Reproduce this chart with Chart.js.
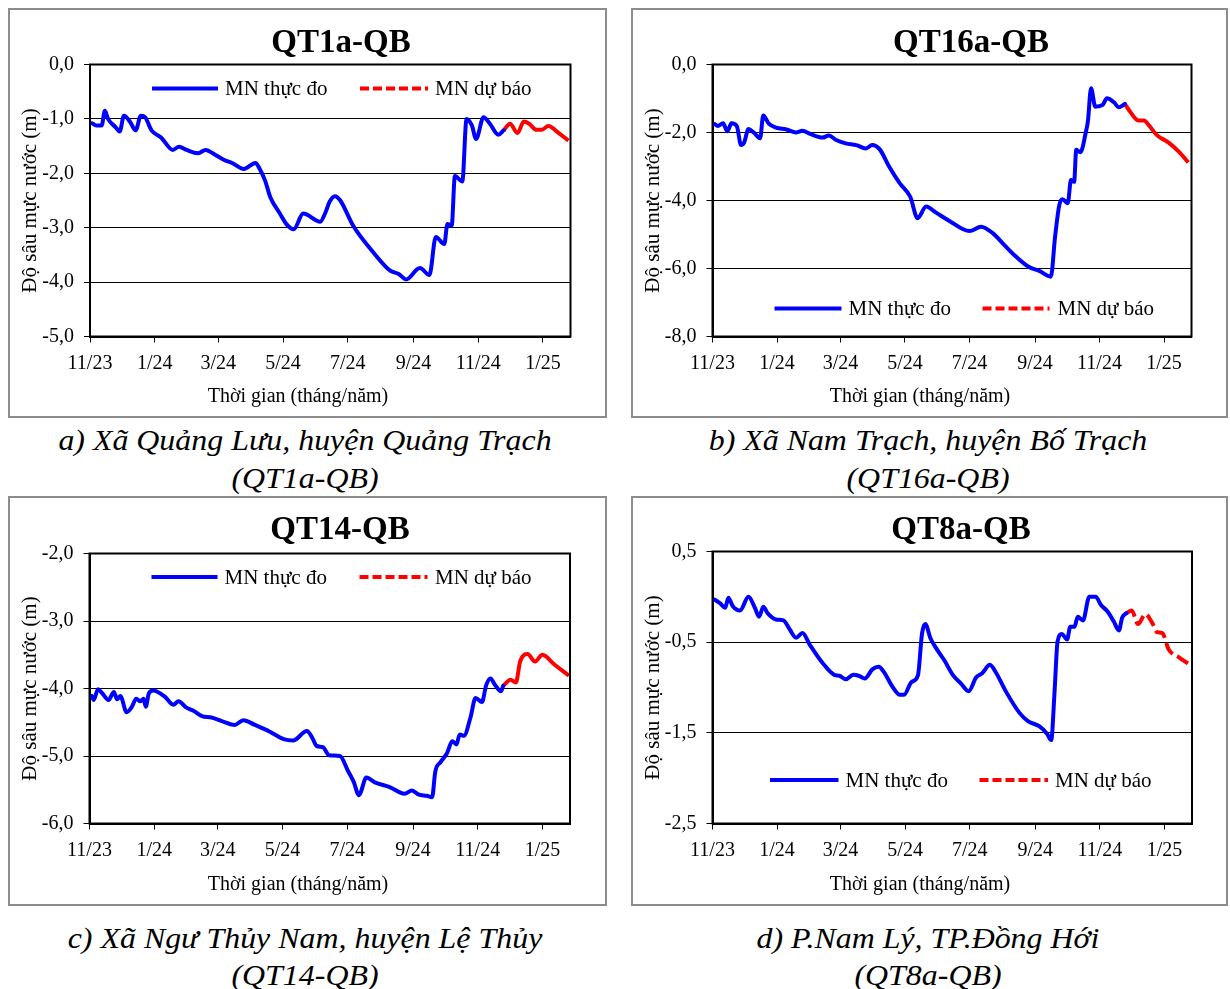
<!DOCTYPE html>
<html><head><meta charset="utf-8">
<script src="https://cdn.jsdelivr.net/npm/chart.js@4.4.1/dist/chart.umd.min.js"></script>
<style>
html,body{margin:0;padding:0;background:#fff;}
#page{position:relative;width:1230px;height:989px;overflow:hidden;font-family:"Liberation Serif","Times New Roman",serif;color:#000;background:#fff;}
.frame{position:absolute;border:2px solid #8c8c8c;box-sizing:border-box;pointer-events:none;}
canvas{position:absolute;}
.title{position:absolute;width:300px;text-align:center;font-weight:bold;font-size:33px;line-height:36px;white-space:nowrap;}
.cap{position:absolute;width:600px;text-align:center;font-style:italic;font-size:29px;line-height:38px;white-space:nowrap;transform:scaleX(1.1);transform-origin:center;}
</style></head>
<body><div id="page"></div>
<script>
// ---- shared axis data (x = days since 1 Nov 2023) ----
const xTickDays = [0, 61, 121, 182, 243, 305, 366, 427];
const xTickLabels = ['11/23', '1/24', '3/24', '5/24', '7/24', '9/24', '11/24', '1/25'];
const xMaxDay = 453;
const seriesLabels = ['MN thực đo', 'MN dự báo'];
const xTitle = 'Thời gian (tháng/năm)';
const yTitle = 'Độ sâu mực nước (m)';

// ---- panel a: QT1a-QB ----
const obsDaysA = [2,6,11,14,17,24,28,32,38,43,48,52,58,67,78,84,91,102,109,118,127,134,145,156,160,165,170,179,185,192,201,217,222,226,231,236,248,267,283,291,298,311,320,326,334,337,341,344,351,355,360,364,371,377,385,390];
const obsValsA = [-1.08,-1.12,-1.12,-0.85,-1.0,-1.15,-1.23,-0.94,-1.06,-1.21,-0.94,-0.97,-1.21,-1.34,-1.57,-1.51,-1.57,-1.63,-1.57,-1.66,-1.76,-1.81,-1.92,-1.81,-1.92,-2.13,-2.44,-2.74,-2.93,-3.03,-2.74,-2.89,-2.72,-2.52,-2.42,-2.5,-2.96,-3.45,-3.79,-3.85,-3.95,-3.74,-3.87,-3.17,-3.3,-2.93,-2.96,-2.05,-2.15,-1.0,-1.12,-1.37,-0.97,-1.09,-1.29,-1.21];
const fcDaysA = [390,396,403,409,414,421,426,432,442,451];
const fcValsA = [-1.21,-1.09,-1.26,-1.05,-1.09,-1.2,-1.2,-1.13,-1.26,-1.4];
const yTicksA = [0,-1,-2,-3,-4,-5];

// ---- panel b: QT16a-QB ----
const obsDaysB = [2,5,10,14,18,23,27,30,34,39,45,48,53,60,70,79,85,93,104,110,117,126,136,145,151,158,167,177,187,194,202,211,224,243,254,265,276,287,299,309,320,324,328,331,336,339,342,344,348,353,355,358,362,369,373,380,384,390];
const obsValsB = [-1.75,-1.81,-1.73,-1.96,-1.73,-1.81,-2.37,-2.29,-1.9,-2.0,-2.17,-1.5,-1.73,-1.86,-1.91,-2.0,-1.95,-2.05,-2.15,-2.09,-2.22,-2.32,-2.37,-2.47,-2.37,-2.49,-3.0,-3.49,-3.89,-4.52,-4.18,-4.35,-4.6,-4.9,-4.77,-4.96,-5.31,-5.65,-5.95,-6.07,-6.24,-5.06,-4.13,-3.96,-4.08,-3.4,-3.45,-2.51,-2.58,-2.0,-1.68,-0.7,-1.24,-1.19,-0.99,-1.12,-1.26,-1.16];
const fcDaysB = [390,395,403,408,413,420,431,441,450];
const fcValsB = [-1.16,-1.39,-1.65,-1.65,-1.8,-2.07,-2.29,-2.56,-2.88];
const yTicksB = [0,-2,-4,-6,-8];

// ---- panel c: QT14-QB ----
const obsDaysC = [2,4,8,12,18,23,26,29,35,40,44,48,51,53,56,60,71,79,84,91,98,106,115,126,137,145,156,170,183,192,205,210,214,220,226,236,244,249,254,261,269,283,297,304,310,318,323,326,331,337,342,346,349,353,359,364,370,374,378,382,388,390];
const obsValsC = [-4.11,-4.17,-4.01,-4.07,-4.17,-4.05,-4.16,-4.11,-4.35,-4.27,-4.15,-4.19,-4.15,-4.27,-4.07,-4.03,-4.12,-4.24,-4.19,-4.28,-4.33,-4.41,-4.43,-4.49,-4.54,-4.47,-4.54,-4.64,-4.75,-4.77,-4.63,-4.73,-4.85,-4.87,-4.99,-5.0,-5.23,-5.38,-5.58,-5.32,-5.39,-5.46,-5.56,-5.51,-5.57,-5.59,-5.61,-5.23,-5.09,-4.96,-4.78,-4.83,-4.68,-4.7,-4.44,-4.14,-4.2,-3.95,-3.85,-3.94,-4.04,-3.96];
const fcDaysC = [390,397,402,406,413,420,427,438,452];
const fcValsC = [-3.96,-3.87,-3.91,-3.6,-3.49,-3.6,-3.5,-3.64,-3.81];
const yTicksC = [-2,-3,-4,-5,-6];

// ---- panel d: QT8a-QB ----
const obsDaysD = [2,7,12,15,19,26,34,40,44,48,52,60,67,73,79,85,92,104,115,120,126,133,138,144,151,157,162,170,177,181,188,194,198,201,206,212,219,227,235,242,249,255,262,268,277,290,298,309,316,320,323,326,330,335,338,342,345,350,356,362,367,373,379,384,387,391];
const obsValsD = [-0.03,-0.07,-0.12,-0.01,-0.1,-0.15,0.0,-0.12,-0.22,-0.11,-0.18,-0.25,-0.26,-0.36,-0.45,-0.4,-0.53,-0.73,-0.86,-0.87,-0.91,-0.86,-0.87,-0.9,-0.8,-0.77,-0.83,-0.99,-1.08,-1.08,-0.94,-0.87,-0.4,-0.3,-0.46,-0.58,-0.7,-0.86,-0.96,-1.04,-0.89,-0.84,-0.75,-0.84,-1.04,-1.28,-1.37,-1.43,-1.51,-1.58,-1.08,-0.49,-0.41,-0.47,-0.33,-0.33,-0.22,-0.26,0.0,0.0,-0.09,-0.16,-0.27,-0.37,-0.23,-0.18];
const fcDaysD = [391,396,402,409,416,420,425,431,441,451];
const fcValsD = [-0.18,-0.15,-0.3,-0.19,-0.3,-0.39,-0.4,-0.58,-0.67,-0.75];
const yTicksD = [0.5,-0.5,-1.5,-2.5];

const titles = ['QT1a-QB', 'QT16a-QB', 'QT14-QB', 'QT8a-QB'];
const captions = [
  ['a) Xã Quảng Lưu, huyện Quảng Trạch', '(QT1a-QB)'],
  ['b) Xã Nam Trạch, huyện Bố Trạch', '(QT16a-QB)'],
  ['c) Xã Ngư Thủy Nam, huyện Lệ Thủy', '(QT14-QB)'],
  ['d) P.Nam Lý, TP.Đồng Hới', '(QT8a-QB)']
];

// ---- layout (style only) ----
const panels = [
  {frame:[8,8,599,410], plot:[90,64.5,570.5,336.5], obsD:obsDaysA, obsV:obsValsA, fcD:fcDaysA, fcV:fcValsA, yT:yTicksA,
   fcDash:[], leg:{y:24, items:[[62,128,135],[270,338,345]]}, titleC:[341,41], capC:[305,440,478], xTitleC:[298,397]},
  {frame:[631,8,597,410], plot:[712.5,64.5,1191.5,336.5], obsD:obsDaysB, obsV:obsValsB, fcD:fcDaysB, fcV:fcValsB, yT:yTicksB,
   fcDash:[], leg:{y:244, items:[[62,129,136],[270,337,345]]}, titleC:[971,41], capC:[928,440,478], xTitleC:[920,397]},
  {frame:[8,496,599,410], plot:[89.5,553.5,570,823.5], obsD:obsDaysC, obsV:obsValsC, fcD:fcDaysC, fcV:fcValsC, yT:yTicksC,
   fcDash:[], leg:{y:23.5, items:[[62,128,135],[270,338,345.5]]}, titleC:[340,528], capC:[305,938,975], xTitleC:[298,885]},
  {frame:[631,496,597,410], plot:[712.5,551.5,1192,823.5], obsD:obsDaysD, obsV:obsValsD, fcD:fcDaysD, fcV:fcValsD, yT:yTicksD,
   fcDash:[13,5], leg:{y:228.5, items:[[57.5,126,133],[267,335.5,342.5]]}, titleC:[961,528], capC:[928,938,975], xTitleC:[920,885]}
];

const FONT = '"Liberation Serif", "Times New Roman", serif';
const fmt = v => (Math.abs(v) < 1e-9 ? 0 : v).toFixed(1).replace('.', ',');

const framePlugin = {
  id: 'plotFrame',
  afterDatasetsDraw(chart) {
    const ca = chart.chartArea, ctx = chart.ctx;
    ctx.save();
    ctx.strokeStyle = '#000'; ctx.lineWidth = 2;
    ctx.strokeRect(ca.left, ca.top, ca.right - ca.left, ca.bottom - ca.top);
    ctx.restore();
  }
};
const legendPlugin = {
  id: 'insideLegend',
  afterDraw(chart, args, opts) {
    const ca = chart.chartArea, ctx = chart.ctx;
    ctx.save();
    chart.data.datasets.forEach((ds, i) => {
      const it = opts.items[i];
      const y = ca.top + opts.y;
      ctx.strokeStyle = ds.borderColor; ctx.lineWidth = 4; ctx.lineCap = 'butt';
      ctx.setLineDash(ds.legendDash || []);
      ctx.beginPath(); ctx.moveTo(ca.left + it[0], y); ctx.lineTo(ca.left + it[1], y); ctx.stroke();
      ctx.setLineDash([]);
      ctx.fillStyle = '#000'; ctx.font = '21px ' + FONT; ctx.textBaseline = 'middle'; ctx.textAlign = 'left';
      ctx.fillText(ds.label, ca.left + it[2], y + 1);
    });
    ctx.restore();
  }
};
const xTitlePlugin = {
  id: 'xAxisTitle',
  afterDraw(chart, args, opts) {
    const ctx = chart.ctx;
    ctx.save();
    ctx.fillStyle = '#000'; ctx.font = '20px ' + FONT; ctx.textBaseline = 'middle'; ctx.textAlign = 'center';
    ctx.fillText(opts.text, opts.x, opts.y);
    ctx.restore();
  }
};

const page = document.getElementById('page');
panels.forEach((p, k) => {
  const [fx, fy, fw, fh] = p.frame;
  const cv = document.createElement('canvas');
  cv.width = fw; cv.height = fh;
  cv.style.left = fx + 'px'; cv.style.top = fy + 'px';
  cv.style.width = fw + 'px'; cv.style.height = fh + 'px';
  page.appendChild(cv);
  const fr = document.createElement('div');
  fr.className = 'frame';
  fr.style.left = fx + 'px'; fr.style.top = fy + 'px'; fr.style.width = fw + 'px'; fr.style.height = fh + 'px';
  page.appendChild(fr);

  const L = p.plot[0] - fx, T = p.plot[1] - fy;
  const R = fx + fw - p.plot[2], B = fy + fh - p.plot[3];
  const yMin = Math.min(...p.yT), yMax = Math.max(...p.yT);

  new Chart(cv, {
    type: 'line',
    data: {datasets: [
      {label: seriesLabels[0], data: p.obsD.map((d, i) => ({x: d, y: p.obsV[i]})),
       borderColor: '#0000ff', borderWidth: 4, pointRadius: 0, cubicInterpolationMode: 'monotone',
       fill: false, legendDash: [], borderJoinStyle: 'round', borderCapStyle: 'round'},
      {label: seriesLabels[1], data: p.fcD.map((d, i) => ({x: d, y: p.fcV[i]})),
       borderColor: '#ff0000', borderWidth: 4, pointRadius: 0, cubicInterpolationMode: 'monotone',
       fill: false, borderDash: p.fcDash, legendDash: [9, 4], borderJoinStyle: 'round'}
    ]},
    options: {
      responsive: false, animation: false, devicePixelRatio: 1,
      layout: {padding: {left: 0, top: T, right: R, bottom: 0}},
      plugins: {legend: {display: false}, tooltip: {enabled: false}, title: {display: false},
                insideLegend: p.leg,
                xAxisTitle: {text: xTitle, x: p.xTitleC[0] - fx, y: p.xTitleC[1] - fy}},
      scales: {
        x: {type: 'linear', min: 0, max: xMaxDay,
          afterBuildTicks: s => { s.ticks = xTickDays.map(v => ({value: v})); },
          afterFit: s => { s.height = B; },
          ticks: {autoSkip: false, maxRotation: 0, padding: 9, color: '#000', font: {family: FONT, size: 20},
                  callback: v => { const i = xTickDays.indexOf(v); return i >= 0 ? xTickLabels[i] : ''; }},
          grid: {drawOnChartArea: false, drawTicks: true, tickLength: 6, color: '#000', lineWidth: 1},
          border: {display: true, color: '#000', width: 2},
          title: {display: false}
        },
        y: {type: 'linear', min: yMin, max: yMax,
          afterBuildTicks: s => { s.ticks = p.yT.map(v => ({value: v})); },
          afterFit: s => { s.width = L; },
          ticks: {padding: 10, color: '#000', font: {family: FONT, size: 20}, callback: v => fmt(v)},
          grid: {color: '#000', lineWidth: 1, tickLength: 6, drawTicks: true},
          border: {display: true, color: '#000', width: 2},
          title: {display: true, text: yTitle, color: '#000', font: {family: FONT, size: 21}, padding: {top: 10, bottom: 0}}
        }
      }
    },
    plugins: [framePlugin, legendPlugin, xTitlePlugin]
  });

  const t = document.createElement('div');
  t.className = 'title'; t.textContent = titles[k];
  t.style.left = (p.titleC[0] - 150) + 'px'; t.style.top = (p.titleC[1] - 18) + 'px';
  page.appendChild(t);
  captions[k].forEach((line, j) => {
    const c = document.createElement('div');
    c.className = 'cap'; c.textContent = line;
    c.style.left = (p.capC[0] - 300) + 'px'; c.style.top = (p.capC[1 + j] - 19) + 'px';
    page.appendChild(c);
  });
});
</script>
</body></html>
